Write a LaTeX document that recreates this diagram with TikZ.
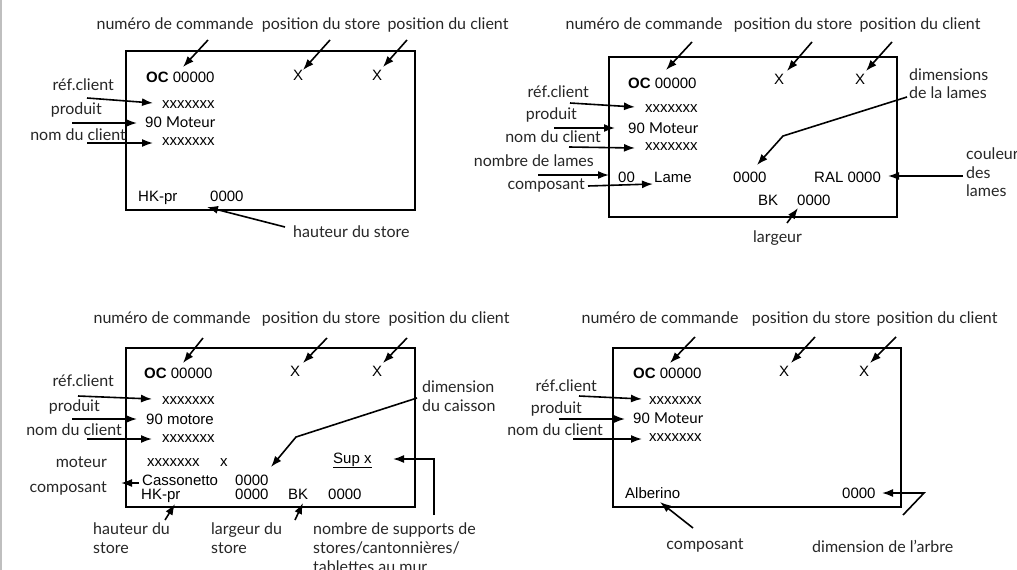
\documentclass[tikz,border=0pt]{standalone}
\usepackage{fontspec}
\setmainfont{Liberation Sans}
\newfontfamily\etiqfont{Lato}
\usetikzlibrary{arrows.meta}
\tikzset{
 lab/.style={font=\etiqfont\fontsize{16}{19}\selectfont, text=black!85, inner sep=0pt},
 txt/.style={font=\fontsize{15}{18}\selectfont, inner sep=0pt},
 fl/.style={line width=1.6pt, -{Latex[length=11pt,width=8pt]}},
 cadre/.style={line width=2.4pt},
}
\newcommand{\oc}{\textbf{OC} 00000}
\newcommand{\mot}[1]{{\etiqfont #1}}
\newcommand{\fle}[4]{\draw[fl] ([shift={#2}]#1) -- ([shift={#4}]#3);}

\begin{document}
\begin{tikzpicture}[x=1pt,y=-1pt]
\useasboundingbox (0,0) rectangle (1017,570);
\draw[black!25, line width=2pt] (1,0) -- (1,570);

% store 1
\draw[cadre] (126,51) rectangle (415,210);
\node[lab,anchor=base] (n1) at (175,29) {numéro de commande};
\node[lab,anchor=base] (s1) at (321,29) {position du store};
\node[lab,anchor=base] (c1) at (448,29) {position du client};
\node[txt,anchor=base west] (oc1) at (146,82) {\oc};
\node[txt,anchor=base] (xs1) at (298,80) {X};
\node[txt,anchor=base] (xc1) at (377,80) {X};
\fle{n1.base}{(33,11)}{oc1.base west}{(37,-15)}
\fle{s1.base}{(9,11)}{xs1.base}{(5,-10)}
\fle{c1.base}{(-41,11)}{xc1.base}{(6,-13)}
\node[lab,anchor=base east] (r1) at (114,90) {réf.client};
\node[lab,anchor=base east] (p1) at (102,114) {produit};
\node[lab,anchor=base east] (nc1) at (126,140) {nom du client};
\node[txt,anchor=base west] (xa1) at (162,108) {xxxxxxx};
\node[txt,anchor=base west] (m1) at (145,127) {90 \mot{Moteur}};
\node[txt,anchor=base west] (xb1) at (162,145) {xxxxxxx};
\fle{r1.base east}{(-27,8)}{xa1.base west}{(-9,-5)}
\fle{p1.base east}{(-30,9)}{m1.base west}{(-8,-4)}
\fle{nc1.base east}{(-39,3)}{xb1.base west}{(-9,-2)}
\node[txt,anchor=base west] (hk1) at (138,201) {HK-pr};
\node[txt,anchor=base west] (h1) at (210,201) {0000};
\node[lab,anchor=base west] (hs1) at (293,237) {hauteur du store};
\fle{hs1.base west}{(-8,-10)}{h1.base west}{(-3,6)}

% store 2
\draw[cadre] (609,57) rectangle (897,217);
\node[lab,anchor=base] (n2) at (644,29) {numéro de commande};
\node[lab,anchor=base] (s2) at (793,29) {position du store};
\node[lab,anchor=base] (c2) at (920,29) {position du client};
\node[txt,anchor=base west] (oc2) at (628,88) {\oc};
\node[txt,anchor=base] (xs2) at (779,84) {X};
\node[txt,anchor=base] (xc2) at (860,84) {X};
\fle{n2.base}{(48,13)}{oc2.base west}{(38,-18)}
\fle{s2.base}{(19,13)}{xs2.base}{(8,-13)}
\fle{c2.base}{(-28,13)}{xc2.base}{(6,-13)}
\node[lab,anchor=base east] (r2) at (589,97) {réf.client};
\node[lab,anchor=base east] (p2) at (577,119) {produit};
\node[lab,anchor=base east] (nc2) at (601,142) {nom du client};
\node[lab,anchor=base east] (nl2) at (594,166) {nombre de lames};
\node[lab,anchor=base east] (cp2) at (585,189) {composant};
\node[txt,anchor=base west] (xa2) at (645,112) {xxxxxxx};
\node[txt,anchor=base west] (m2) at (628,133) {90 \mot{Moteur}};
\node[txt,anchor=base west] (xb2) at (645,150) {xxxxxxx};
\node[txt,anchor=base west] (l2) at (618,182) {00};
\node[txt,anchor=base west] (la2) at (654,182) {Lame};
\node[txt,anchor=base west] (z2) at (733,182) {0000};
\node[txt,anchor=base west] (ral2) at (814,182) {RAL 0000};
\node[txt,anchor=base west] (bk2) at (758,205) {BK};
\node[txt,anchor=base west] (bz2) at (797,205) {0000};
\fle{r2.base east}{(-19,6)}{xa2.base west}{(-10,-5)}
\fle{p2.base east}{(-23,9)}{m2.base west}{(-13,-5)}
\fle{nc2.base east}{(-32,5)}{xb2.base west}{(-10,-2)}
\fle{nl2.base east}{(-56,9)}{l2.base west}{(-9,-7)}
\fle{cp2.base east}{(3,-3)}{la2.base west}{(-1,2)}
\node[lab,anchor=base west] (dm2) at (909,80) {dimensions};
\node[lab,anchor=base west] (dl2) at (909,98) {de la lames};
\coordinate (k2) at (783,136);
\draw[fl] ([shift={(-2,-1)}]dl2.base west) -- (k2) -- ([shift={(24,-17)}]z2.base west);
\node[lab,anchor=base west] (co2) at (966,159) {couleur};
\node[lab,anchor=base west] (co2b) at ([shift={(0,19)}]co2.base west) {des};
\node[lab,anchor=base west] (co2c) at ([shift={(0,18)}]co2b.base west) {lames};
\fle{co2b.base west}{(-3,-2)}{ral2.base west}{(74,-6)}
\node[lab,anchor=base west] (lg2) at (753,242) {largeur};
\fle{lg2.base west}{(34,-19)}{bz2.base west}{(1,3)}

% store 3
\draw[cadre] (126,348) rectangle (415,507);
\node[lab,anchor=base] (n3) at (172,323) {numéro de commande};
\node[lab,anchor=base] (s3) at (321,323) {position du store};
\node[lab,anchor=base] (c3) at (449,323) {position du client};
\node[txt,anchor=base west] (oc3) at (144,378) {\oc};
\node[txt,anchor=base] (xs3) at (295,376) {X};
\node[txt,anchor=base] (xc3) at (377,376) {X};
\fle{n3.base}{(31,15)}{oc3.base west}{(39,-15)}
\fle{s3.base}{(6,15)}{xs3.base}{(8,-13)}
\fle{c3.base}{(-42,15)}{xc3.base}{(6,-13)}
\node[lab,anchor=base east] (r3) at (114,386) {réf.client};
\node[lab,anchor=base east] (p3) at (100,411) {produit};
\node[lab,anchor=base east] (nc3) at (122,435) {nom du client};
\node[lab,anchor=base east] (mo3) at (107,467) {moteur};
\node[lab,anchor=base east] (cp3) at (107,492) {composant};
\node[txt,anchor=base west] (xa3) at (162,404) {xxxxxxx};
\node[txt,anchor=base west] (m3) at (146,424) {90 motore};
\node[txt,anchor=base west] (xb3) at (162,442) {xxxxxxx};
\node[txt,anchor=base west] (xm3) at (147,466) {xxxxxxx};
\node[txt,anchor=base west] (xx3) at (220,466) {x};
\fle{r3.base east}{(-36,10)}{xa3.base west}{(-10,-5)}
\fle{p3.base east}{(-28,8)}{m3.base west}{(-9,-5)}
\fle{nc3.base east}{(-35,4)}{xb3.base west}{(-10,-3)}
\node[txt,anchor=base west] (ca3) at (142,485) {Cassonetto};
\node[txt,anchor=base west] (cz3) at (235,485) {0000};
\node[txt,anchor=base west] (hk3) at (141,499) {HK-pr};
\node[txt,anchor=base west] (hz3) at (235,499) {0000};
\node[txt,anchor=base west] (bk3) at (288,499) {BK};
\node[txt,anchor=base west] (bz3) at (328,499) {0000};
\fle{ca3.base west}{(-3,-2)}{cp3.base east}{(14,-9)}
\node[txt,anchor=base west] (sup3) at (333,463) {\underline{Sup x}};
\node[lab,anchor=base west] (dc3) at (422,392) {dimension};
\node[lab,anchor=base west] (dc3b) at (422,411) {du caisson};
\coordinate (k3) at (296,437);
\draw[fl] ([shift={(-5,-13)}]dc3b.base west) -- (k3) -- ([shift={(36,-18)}]cz3.base west);
\node[lab,anchor=base west] (hd3) at (93,534) {hauteur du};
\node[lab,anchor=base west] at ([shift={(0,19)}]hd3.base west) {store};
\fle{hd3.base west}{(72,-14)}{hk3.base west}{(34,5)}
\node[lab,anchor=base west] (ld3) at (211,534) {largeur du};
\node[lab,anchor=base west] at ([shift={(0,19)}]ld3.base west) {store};
\fle{ld3.base west}{(84,-14)}{bk3.base west}{(15,4)}
\node[lab,anchor=base west] (ns3) at (313,534) {nombre de supports de};
\node[lab,anchor=base west] (ns3b) at ([shift={(0,19)}]ns3.base west) {stores/cantonnières/};
\node[lab,anchor=base west] at ([shift={(0,19)}]ns3b.base west) {tablettes au mur};
\coordinate (k3b) at (434,459);
\draw[fl] ([shift={(121,-19)}]ns3.base west) -- (k3b) -- ([shift={(60,-4)}]sup3.base west);

% store 4
\draw[cadre] (613,348) rectangle (901,507);
\node[lab,anchor=base] (n4) at (660,323) {numéro de commande};
\node[lab,anchor=base] (s4) at (811,323) {position du store};
\node[lab,anchor=base] (c4) at (937,323) {position du client};
\node[txt,anchor=base west] (oc4) at (633,378) {\oc};
\node[txt,anchor=base] (xs4) at (784,376) {X};
\node[txt,anchor=base] (xc4) at (864,376) {X};
\fle{n4.base}{(35,14)}{oc4.base west}{(37,-15)}
\fle{s4.base}{(4,14)}{xs4.base}{(7,-13)}
\fle{c4.base}{(-41,14)}{xc4.base}{(6,-13)}
\node[lab,anchor=base east] (r4) at (597,391) {réf.client};
\node[lab,anchor=base east] (p4) at (582,413) {produit};
\node[lab,anchor=base east] (nc4) at (603,435) {nom du client};
\node[txt,anchor=base west] (xa4) at (649,404) {xxxxxxx};
\node[txt,anchor=base west] (m4) at (633,423) {90 \mot{Moteur}};
\node[txt,anchor=base west] (xb4) at (649,441) {xxxxxxx};
\fle{r4.base east}{(-18,5)}{xa4.base west}{(-7,-5)}
\fle{p4.base east}{(-23,6)}{m4.base west}{(-8,-4)}
\fle{nc4.base east}{(-30,4)}{xb4.base west}{(-7,-2)}
\node[txt,anchor=base west] (al4) at (625,498) {Alberino};
\node[txt,anchor=base west] (az4) at (842,498) {0000};
\node[lab,anchor=base] (cp4) at (705,549) {composant};
\fle{cp4.base}{(-12,-21)}{al4.base west}{(35,4)}
\node[lab,anchor=base west] (da4) at (812,552) {dimension de l’arbre};
\coordinate (k4) at (924,493);
\draw[fl] ([shift={(91,-37)}]da4.base west) -- (k4) -- ([shift={(40,-5)}]az4.base west);
\end{tikzpicture}
\end{document}
